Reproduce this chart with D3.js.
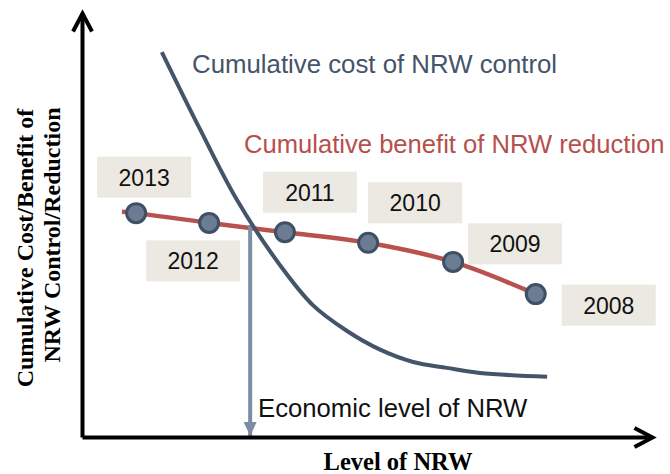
<!DOCTYPE html>
<html>
<head>
<meta charset="utf-8">
<script src="https://cdn.jsdelivr.net/npm/d3@7"></script>
<style>
  body { margin: 0; background: #fff; }
  svg { display: block; }
</style>
</head>
<body>
<div id="chart-wrap"></div>
<script>
// values, in arbitrary units (0-100) on both axes
const years = ["2013", "2012", "2011", "2010", "2009", "2008"];
const yearLevel = [9.5, 22.3, 35.6, 50.2, 65.1, 79.6];
const yearBenefit = [52.8, 50.5, 48.3, 45.8, 41.3, 33.7];

// benefit line starts a little left of the 2013 marker
const benefitLevel = [7.0].concat(yearLevel);
const benefitValue = [53.1].concat(yearBenefit);

const costLevel = [14.0, 20.7, 27.2, 34.7, 40.5, 46.5, 52.3, 58.1, 64.0, 69.8, 81.6];
const costValue = [90.8, 72.6, 55.9, 40.6, 31.1, 25.0, 20.6, 17.7, 16.3, 15.1, 14.2];

const economicLevel = 29.5;
const economicValue = 50.0;

// where each year box sits relative to its marker (px)
const labelShift = [[8, -36], [-16, 38], [25, -40], [47, -40], [62, -18], [73, 11]];

const width = 670;
const height = 474;
const sans = "Arial, 'Liberation Sans', sans-serif";
const serif = "'Times New Roman', 'Liberation Serif', serif";

const svg = d3.select("#chart-wrap")
  .append("svg")
  .attr("width", width)
  .attr("height", height);

const x = d3.scaleLinear().domain([0, 100]).range([82, 652]);
const y = d3.scaleLinear().domain([0, 100]).range([437, 13]);

const defs = svg.append("defs");
defs.append("marker")
  .attr("id", "chevron")
  .attr("markerUnits", "userSpaceOnUse")
  .attr("viewBox", "-24 -14 30 28")
  .attr("markerWidth", 30)
  .attr("markerHeight", 28)
  .attr("refX", 0)
  .attr("refY", 0)
  .attr("orient", "auto")
  .style("overflow", "visible")
  .append("path")
  .attr("d", "M-18,-9.5L0,0L-18,9.5")
  .attr("fill", "none")
  .attr("stroke", "#000")
  .attr("stroke-width", 4);

defs.append("marker")
  .attr("id", "drop")
  .attr("markerUnits", "userSpaceOnUse")
  .attr("viewBox", "-16 -8 18 16")
  .attr("markerWidth", 18)
  .attr("markerHeight", 16)
  .attr("refX", 0)
  .attr("refY", 0)
  .attr("orient", "auto")
  .append("path")
  .attr("d", "M-14,-6.5L0,0L-14,6.5Z")
  .attr("fill", "#7b8ca4");

// curves
const line = d3.line()
  .x(d => x(d[0]))
  .y(d => y(d[1]))
  .curve(d3.curveCatmullRom.alpha(0.5));

svg.append("path")
  .datum(benefitLevel.map((v, i) => [v, benefitValue[i]]))
  .attr("fill", "none")
  .attr("stroke", "#b9524f")
  .attr("stroke-width", 4.5)
  .attr("d", line);

// economic level drop line
svg.append("line")
  .attr("x1", x(economicLevel))
  .attr("x2", x(economicLevel))
  .attr("y1", y(economicValue))
  .attr("y2", y(0) - 1)
  .attr("stroke", "#7b8ca4")
  .attr("stroke-width", 4)
  .attr("marker-end", "url(#drop)");

svg.append("path")
  .datum(costLevel.map((v, i) => [v, costValue[i]]))
  .attr("fill", "none")
  .attr("stroke", "#44546a")
  .attr("stroke-width", 4)
  .attr("d", line);

// axes, no ticks, arrow heads on the ends
const xAxis = svg.append("g")
  .attr("transform", "translate(0," + y(0) + ")")
  .call(d3.axisBottom(x).ticks(0).tickSizeOuter(0));
const yAxis = svg.append("g")
  .attr("transform", "translate(" + x(0) + ",0)")
  .call(d3.axisLeft(y).ticks(0).tickSizeOuter(0));
[xAxis, yAxis].forEach(g => {
  g.select(".domain")
    .attr("stroke", "#000")
    .attr("stroke-width", 4)
    .attr("marker-end", "url(#chevron)");
});

// year markers
svg.selectAll("circle.year")
  .data(years)
  .join("circle")
  .attr("class", "year")
  .attr("cx", (d, i) => x(yearLevel[i]))
  .attr("cy", (d, i) => y(yearBenefit[i]))
  .attr("r", 9.5)
  .attr("fill", "#6b7c93")
  .attr("stroke", "#3f4f66")
  .attr("stroke-width", 3);

// year boxes
const boxes = svg.selectAll("g.tag")
  .data(years)
  .join("g")
  .attr("class", "tag")
  .attr("transform", (d, i) => "translate(" + (x(yearLevel[i]) + labelShift[i][0]) + "," + (y(yearBenefit[i]) + labelShift[i][1]) + ")");

boxes.append("rect")
  .attr("x", -47)
  .attr("y", -20.5)
  .attr("width", 94)
  .attr("height", 41)
  .attr("fill", "#ece8e2");

boxes.append("text")
  .attr("text-anchor", "middle")
  .attr("y", 8.5)
  .style("font-family", sans)
  .style("font-size", "23px")
  .attr("fill", "#111")
  .text(d => d);

// curve labels
svg.append("text")
  .attr("x", 192)
  .attr("y", 73)
  .style("font-family", sans)
  .style("font-size", "25.8px")
  .attr("fill", "#44546a")
  .text("Cumulative cost of NRW control");

svg.append("text")
  .attr("x", 244)
  .attr("y", 153)
  .style("font-family", sans)
  .style("font-size", "25.6px")
  .attr("fill", "#b5504d")
  .text("Cumulative benefit of NRW reduction");

svg.append("text")
  .attr("x", 258)
  .attr("y", 417)
  .style("font-family", sans)
  .style("font-size", "25.7px")
  .attr("fill", "#111")
  .text("Economic level of NRW");

// axis titles
svg.append("text")
  .attr("x", 398)
  .attr("y", 470)
  .attr("text-anchor", "middle")
  .style("font-family", serif)
  .style("font-size", "24.5px")
  .style("font-weight", "bold")
  .text("Level of NRW");

const yTitle = [["Cumulative Cost/Benefit of", 33, 248], ["NRW Control/Reduction", 60, 235]];
svg.selectAll("text.ytitle")
  .data(yTitle)
  .join("text")
  .attr("class", "ytitle")
  .attr("transform", d => "translate(" + d[1] + "," + d[2] + ") rotate(-90)")
  .attr("text-anchor", "middle")
  .style("font-family", serif)
  .style("font-size", "24px")
  .style("font-weight", "bold")
  .text(d => d[0]);
</script>
</body>
</html>
